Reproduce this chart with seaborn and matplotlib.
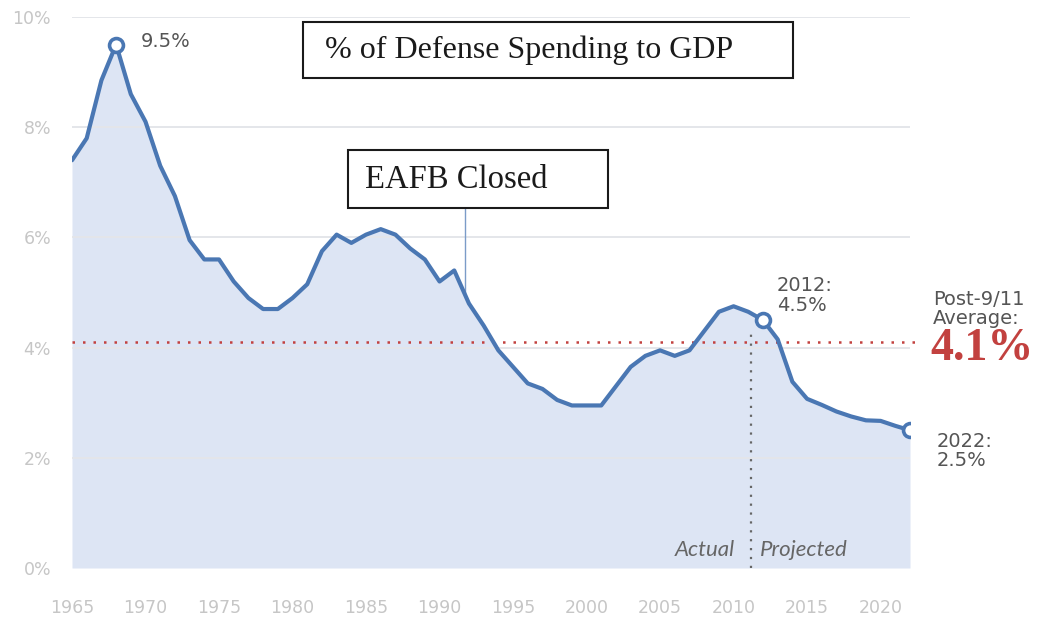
import matplotlib
matplotlib.use("Agg")
import matplotlib.pyplot as plt
from matplotlib.patches import Rectangle
import numpy as np
import pandas as pd
import seaborn as sns

# Defense spending as a share of GDP, 1965-2022 (2012 onward projected)
years = list(range(1965, 2023))
share = [
    7.4, 7.8, 8.85, 9.5, 8.6, 8.1, 7.3, 6.75, 5.95, 5.6,
    5.6, 5.2, 4.9, 4.7, 4.7, 4.9, 5.15, 5.75, 6.05, 5.9,
    6.05, 6.15, 6.05, 5.8, 5.6, 5.2, 5.4, 4.8, 4.4, 3.95,
    3.65, 3.35, 3.25, 3.05, 2.95, 2.95, 2.95, 3.3, 3.65, 3.85,
    3.95, 3.85, 3.95, 4.3, 4.65, 4.75, 4.65, 4.5, 4.15, 3.38,
    3.07, 2.96, 2.84, 2.75, 2.68, 2.67, 2.58, 2.5,
]
x_ticks = [1965, 1970, 1975, 1980, 1985, 1990, 1995, 2000, 2005, 2010, 2015, 2020]
y_ticks = [0, 2, 4, 6, 8, 10]
y_tick_labels = ["0%", "2%", "4%", "6%", "8%", "10%"]
post911_avg = 4.1
split_year = 2011.2
eafb_year = 1991.7
highlight_years = [1968, 2012, 2022]

df = pd.DataFrame({"year": years, "share": share})

sns.set_theme(style="white")
plt.rcParams["font.family"] = ["DejaVu Sans"]

LINE = "#4a77b3"
FILL = "#dde5f4"
GRID = "#e4e6ea"
TICK = "#c6c6c6"
TEXT = "#555555"
RED = "#c2413f"
SERIF = ["Liberation Serif", "DejaVu Serif"]

fig = plt.figure(figsize=(10.49, 6.2), dpi=100)
ax = fig.add_axes([72 / 1049, 1 - 568 / 620, (910 - 72) / 1049, (568 - 17) / 620])

ax.fill_between(df["year"], 0, df["share"], color=FILL, lw=0, zorder=1)
for yv in y_ticks[1:]:
    ax.axhline(yv, color=GRID, lw=1.4, zorder=2)

sns.lineplot(data=df, x="year", y="share", ax=ax, color=LINE, lw=3.0,
             zorder=5, legend=False)

hl = df[df["year"].isin(highlight_years)]
ax.plot(hl["year"], hl["share"], ls="none", marker="o", ms=10,
        mfc="white", mec=LINE, mew=2.6, zorder=6)

ax.set_xlim(1965, 2022)
ax.set_ylim(0, 10)
ax.set_xticks(x_ticks)
ax.set_xticklabels([str(t) for t in x_ticks])
ax.set_yticks(y_ticks)
ax.set_yticklabels(y_tick_labels)
ax.tick_params(axis="both", length=0, colors=TICK, labelsize=12.5)
ax.tick_params(axis="y", pad=15)
ax.tick_params(axis="x", pad=22)
ax.set_xlabel("")
ax.set_ylabel("")
for s in ax.spines.values():
    s.set_visible(False)
ax.set_facecolor("none")

# post-9/11 average reference line
ax.plot([1965, 2022.5], [post911_avg, post911_avg], ls=(0, (1, 3.2)),
        color=RED, lw=1.8, zorder=4, clip_on=False)

# actual / projected split
ax.plot([split_year, split_year], [0, post911_avg + 0.15], ls=(0, (1, 3)),
        color="#666666", lw=1.6, zorder=4)
ax.text(split_year - 1.1, 0.33, "Actual", ha="right", va="center",
        fontsize=16, style="italic", color="#666666", zorder=7,
        family=["Lato", "DejaVu Sans"])
ax.text(split_year + 0.6, 0.33, "Projected", ha="left", va="center",
        fontsize=16, style="italic", color="#666666", zorder=7,
        family=["Lato", "DejaVu Sans"])

# value callouts
peak = df.loc[df["year"] == 1968, "share"].iloc[0]
ax.text(1969.7, peak + 0.05, f"{peak:.1f}%", ha="left", va="center",
        fontsize=14, color=TEXT)
v12 = df.loc[df["year"] == 2012, "share"].iloc[0]
ax.text(2012.95, v12 + 0.45, f"2012:\n{v12:.1f}%", ha="left", va="center",
        fontsize=14, color=TEXT, linespacing=1.05)
v22 = df.loc[df["year"] == 2022, "share"].iloc[0]
fig.text(937 / 1049, 1 - 451 / 620, f"2022:\n{v22:.1f}%", ha="left",
         va="center", fontsize=14, color=TEXT, linespacing=1.05)
fig.text(933 / 1049, 1 - 309 / 620, "Post-9/11\nAverage:", ha="left",
         va="center", fontsize=14, color=TEXT, linespacing=1.05)
fig.text(930 / 1049, 1 - 349 / 620, f"{post911_avg:.1f}%", ha="left",
         va="center", fontsize=33, color=RED, fontweight="bold",
         family=SERIF)

# title box
fig.patches.append(Rectangle((303 / 1049, 1 - 78 / 620), 490 / 1049, 56 / 620,
                             transform=fig.transFigure, fill=False,
                             ec="#1a1a1a", lw=1.5))
fig.text(325 / 1049, 1 - 50 / 620, "% of Defense Spending to GDP", ha="left",
         va="center", fontsize=23, color="#1a1a1a", family=SERIF)

# EAFB closure box and leader
fig.patches.append(Rectangle((348 / 1049, 1 - 208 / 620), 260 / 1049, 58 / 620,
                             transform=fig.transFigure, fill=True, fc="white",
                             ec="#1a1a1a", lw=1.5, zorder=8))
fig.text(365 / 1049, 1 - 180 / 620, "EAFB Closed", ha="left", va="center",
         fontsize=23.5, color="#1a1a1a", zorder=9, family=SERIF)
box_bottom = ax.transData.inverted().transform(
    fig.transFigure.transform((0, 1 - 208 / 620)))[1]
curve_at = np.interp(eafb_year, df["year"], df["share"])
ax.plot([eafb_year, eafb_year], [curve_at, box_bottom], color="#7b9cc8",
        lw=1.0, zorder=3, clip_on=False)

fig.savefig("out.png", dpi=100, facecolor="white")
